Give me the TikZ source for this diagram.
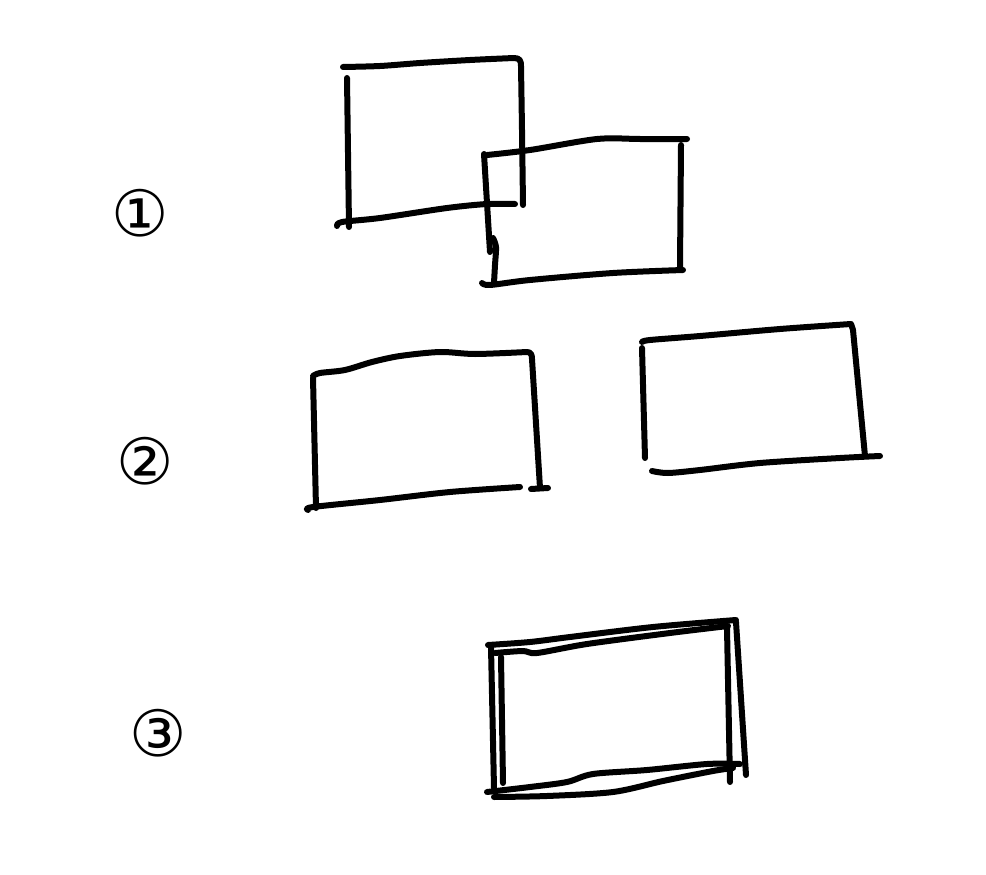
\documentclass[tikz,border=0pt]{standalone}
\usepackage{fontspec}
\newfontfamily\symfont{DejaVu Sans}
\begin{document}
\begin{tikzpicture}[x=1pt,y=-1pt,
  pen/.style={line width=6pt, line cap=round, line join=round, black},
  lbl/.style={font=\symfont\fontsize{64}{64}\selectfont, inner sep=0pt}]
\useasboundingbox (0,0) rectangle (986,875);
% labels
\node[lbl] (l1) at (140,213) {①};
\node[lbl] (l2) at (145,461) {②};
\node[lbl] (l3) at (158,733) {③};
% ---- row 1: overlapping boxes
% box A
\draw[pen] plot[smooth,tension=0.5] coordinates {(343,67) (380,66) (420,63) (470,60) (514,58)}
  .. controls (520,58) and (521,61) .. (521,66)
  plot[smooth,tension=0.5] coordinates {(521,66) (522,130) (523,205)};
\draw[pen] (347,78) -- (349,227);
\draw[pen] plot[smooth,tension=0.5] coordinates {(337,226) (342,222) (380,218) (447,208) (487,204) (515,204)};
% box B
\draw[pen] plot[smooth,tension=0.5] coordinates {(487,155) (530,150) (597,139) (640,139) (687,139)};
\draw[pen] (484,154) -- (490,252);
\draw[pen] plot[smooth,tension=0.5] coordinates {(493,238) (496,247) (495,265) (494,283)};
\draw[pen] (681,145) -- (680,267);
\draw[pen] plot[smooth,tension=0.5] coordinates {(482,283) (490,285) (530,280) (613,273) (683,270)};
% ---- row 2: separated boxes
% box C
\draw[pen] plot[smooth,tension=0.5] coordinates {(313,376) (320,373) (345,370) (372,362) (400,356) (440,352) (475,354) (527,352)}
  .. controls (531,352) and (532,355) .. (532,359)
  -- (540,488);
\draw[pen] (313,378) -- (316,508);
\draw[pen] plot[smooth,tension=0.5] coordinates {(308,510) (313,507) (380,500) (450,492) (520,487)};
\draw[pen] (531,489) -- (548,488);
% box D
\draw[pen] plot[smooth,tension=0.5] coordinates {(642,342) (650,340) (700,336) (780,329) (851,324)}
  -- (853,330) -- (865,456);
\draw[pen] (642,348) -- (645,458);
\draw[pen] plot[smooth,tension=0.5] coordinates {(652,471) (668,473) (700,470) (760,463) (840,458) (880,456)};
% ---- row 3: double box
\draw[pen] plot[smooth,tension=0.5] coordinates {(488,645) (530,642) (570,637) (653,627) (736,620)};
\draw[pen] plot[smooth,tension=0.5] coordinates {(495,653) (523,651) (537,653) (587,644) (670,633) (728,626)};
\draw[pen] (491,647) -- (494,788);
\draw[pen] (501,657) -- (503,783);
\draw[pen] (736,622) -- (746,775);
\draw[pen] (727,628) -- (730,782);
\draw[pen] plot[smooth,tension=0.5] coordinates {(487,792) (530,787) (567,782) (593,774) (647,770) (707,764) (740,764)};
\draw[pen] plot[smooth,tension=0.5] coordinates {(494,797) (547,796) (613,792) (663,781) (713,771) (733,768)};
\end{tikzpicture}
\end{document}
